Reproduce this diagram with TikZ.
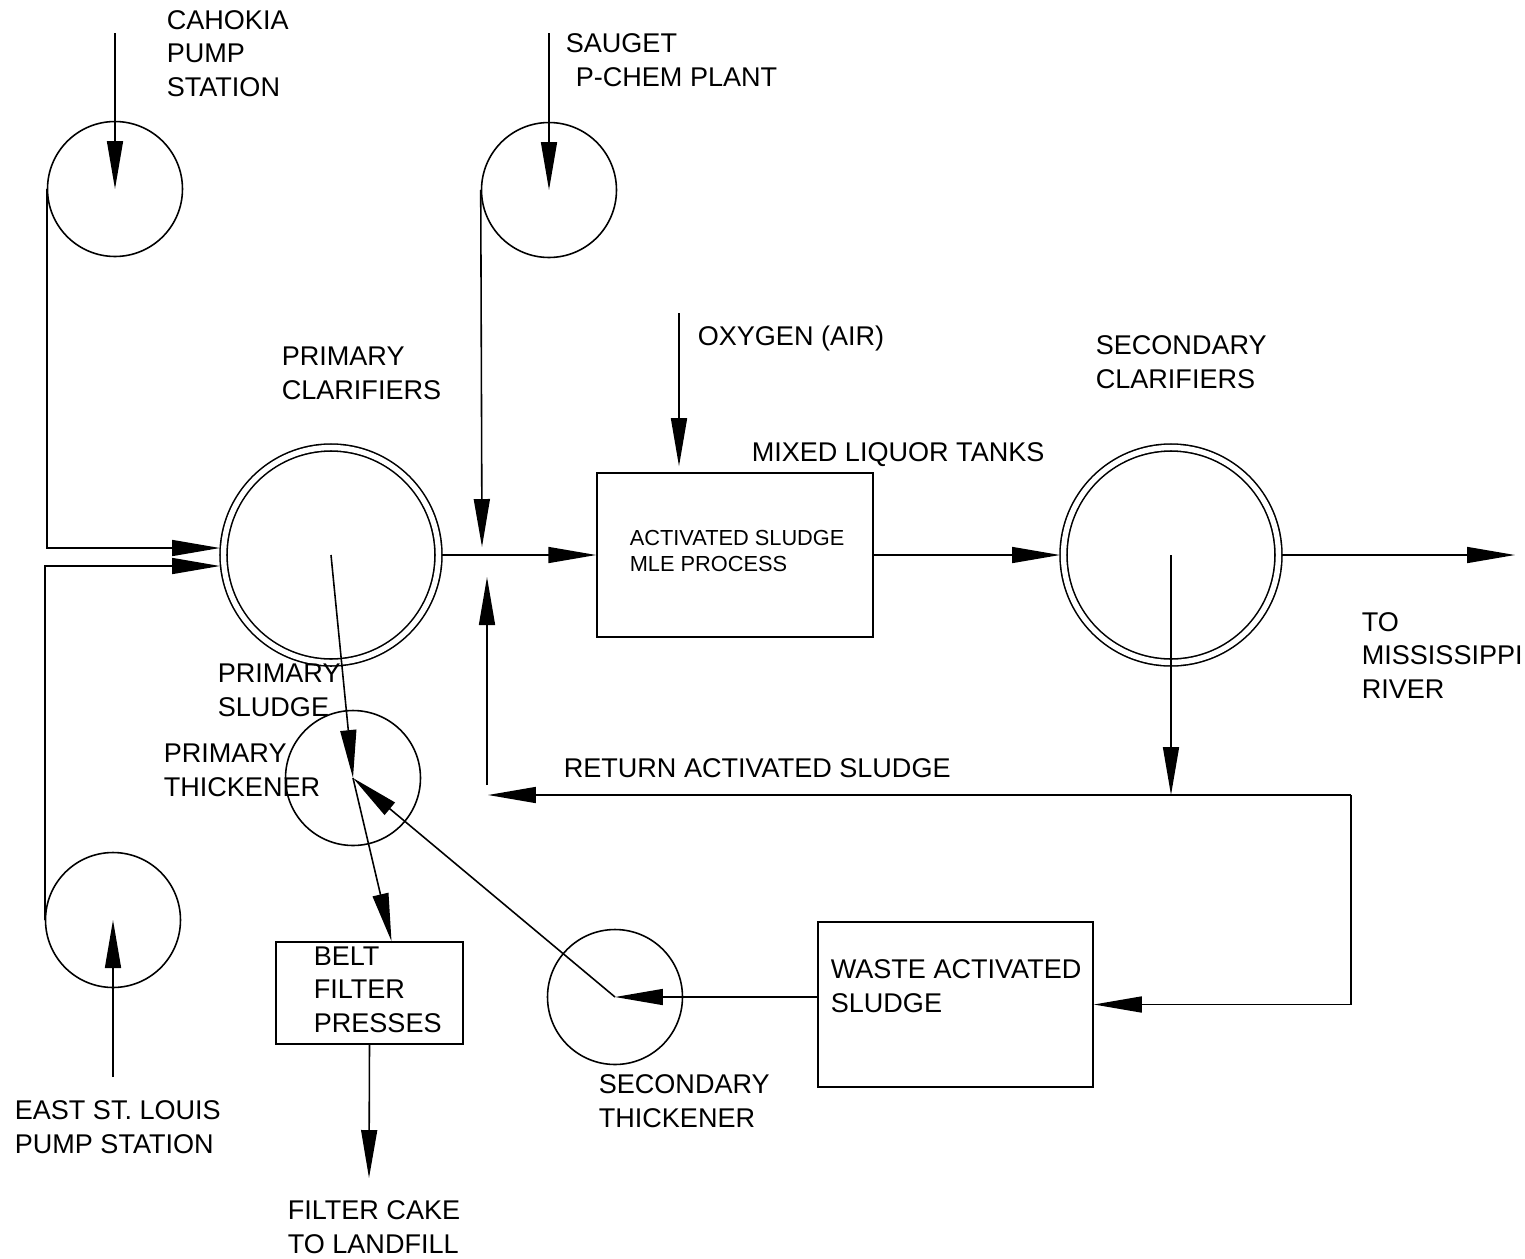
\documentclass[tikz,border=0pt]{standalone}
\usepackage{fontspec}
\setmainfont{Liberation Sans}
\usetikzlibrary{arrows.meta, calc}

\begin{document}
\begin{tikzpicture}[
    x=0.02cm, y=-0.02cm,
    line width=0.9pt,
    flow/.style={-{Triangle[length=0.96cm, width=0.32cm]}},
    pump/.style={circle, draw, minimum size=2.7cm, inner sep=0pt},
    clarifier/.style={circle, draw, double, double distance=0.108cm,
                      minimum size=4.3cm, inner sep=0pt, outer sep=0.07cm},
    tank/.style={rectangle, draw, inner sep=0pt},
    lbl/.style={anchor=base west, align=left, inner sep=0pt,
                font=\fontsize{15.4pt}{19pt}\selectfont},
    lblsmall/.style={lbl, font=\fontsize{12.4pt}{14.8pt}\selectfont}
]
\useasboundingbox (0,0) rectangle (1525,1258);

% units
\node[pump] (cahokia)   at (115,189) {};
\node[pump] (sauget)    at (549,190) {};
\node[pump] (eastlouis) at (113,920) {};
\node[clarifier] (primclar) at (331,555) {};
\node[clarifier] (secclar)  at (1171,555) {};
\node[tank, minimum width=5.52cm, minimum height=3.28cm] (mle)  at (735,555) {};
\node[tank, minimum width=3.74cm, minimum height=2.04cm] (belt) at (369.5,993) {};
\node[tank, minimum width=5.5cm, minimum height=3.3cm]   (was)  at (955.5,1004.5) {};
\node[pump] (primthick) at (353,778) {};
\node[pump] (secthick)  at (615,997) {};

% free ends
\coordinate (cahin)    at (115,33);
\coordinate (saugin)   at (549,33);
\coordinate (eslin)    at (113,1077);
\coordinate (oxin)     at (679,313);
\coordinate (saugjoin) at (482,547);
\coordinate (rasfoot)  at (487,785);
\coordinate (rasjoin)  at (487,577);
\coordinate (split)    at (1171,795);
\coordinate (loop)     at (1351,795);
\coordinate (rasend)   at (488,795);
\coordinate (river)    at (1515,555);
\coordinate (landfill) at (369,1178);

% flows
\draw[flow] (cahin) -- (cahokia.center);
\draw[flow] (saugin) -- (sauget.center);
\draw[flow] (eslin) -- (eastlouis.center);
\draw[flow] (cahokia.west) |- ($(primclar.west)+(0,-7)$);
\draw[flow] (eastlouis.west) |- ($(primclar.west)+(0,11)$);
\draw[flow] (sauget.west) -- (saugjoin);
\draw[flow] (rasfoot) -- (rasjoin);
\draw[flow] (primclar.east) -- (mle.west);
\draw[flow] (oxin) -- ($(mle.north -| oxin)+(0,-6)$);
\draw[flow] (mle.east) -- (secclar.west);
\draw[flow] (secclar.east) -- (river);
\draw[flow] (secclar.center) -- (split);
\draw[flow] (loop) -- (rasend);
\draw[flow] (loop) |- (was.east);
\draw[flow] (was.west |- secthick) -- (secthick.center);
\draw[flow] (secthick.center) -- (primthick.center);
\draw[flow] (primclar.center) -- (primthick.center);
\draw[flow] (primthick.center) -- ($(belt.north)+(22,0)$);
\draw[flow] (belt.south) -- (landfill);

% labels (placed at the baseline of their last line)
\node[lbl] (cahokialbl)  at (166,96)   {CAHOKIA\\PUMP\\STATION};
\node[lbl] (saugetlbl)   at (565,86)   {SAUGET\\\hspace*{0.2cm}P-CHEM PLANT};
\node[lbl] (eastlbl)     at (14,1153)  {EAST ST. LOUIS\\PUMP STATION};
\node[lbl] (primclarlbl) at (281,399)  {PRIMARY\\CLARIFIERS};
\node[lbl] (oxlbl)       at (697,345)  {OXYGEN (AIR)};
\node[lbl] (mixedlbl)    at (751,461)  {MIXED LIQUOR TANKS};
\node[lblsmall] (mlelbl) at (629,571)  {ACTIVATED SLUDGE\\MLE PROCESS};
\node[lbl] (secclarlbl)  at (1095,388) {SECONDARY\\CLARIFIERS};
\node[lbl] (riverlbl)    at (1361,698) {TO\\MISSISSIPPI\\RIVER};
\node[lbl] (sludgelbl)   at (217,716)  {PRIMARY\\SLUDGE};
\node[lbl] (pthicklbl)   at (163,796)  {PRIMARY\\THICKENER};
\node[lbl] (raslbl)      at (563,777)  {RETURN ACTIVATED SLUDGE};
\node[lbl] (beltlbl)     at (313,1032) {BELT\\FILTER\\PRESSES};
\node[lbl] (waslbl)      at (830,1012) {WASTE ACTIVATED\\SLUDGE};
\node[lbl] (sthicklbl)   at (598,1127) {SECONDARY\\THICKENER};
\node[lbl] (cakelbl)     at (287,1253) {FILTER CAKE\\TO LANDFILL};

\end{tikzpicture}
\end{document}
